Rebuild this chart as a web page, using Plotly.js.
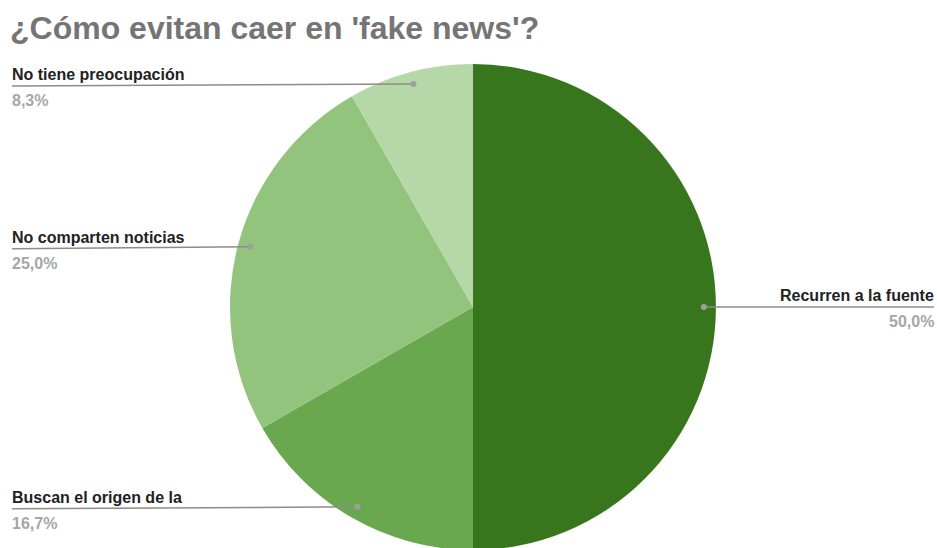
<!DOCTYPE html>
<html>
<head>
<meta charset="utf-8">
<script src="https://cdn.plot.ly/plotly-3.0.1.min.js"></script>
<style>html,body{margin:0;padding:0;overflow:hidden;background:#fff;}</style>
</head>
<body>
<div id="chart" style="width:937px;height:560px;"></div>
<script>
const categories = ["Recurren a la fuente", "Buscan el origen de la", "No comparten noticias", "No tiene preocupación"];
const values = [50.0, 16.7, 25.0, 8.3];
const percentLabels = ["50,0%", "16,7%", "25,0%", "8,3%"];
const colors = ["#38761d", "#6aa84f", "#93c47d", "#b6d7a8"];

const W = 937, H = 560;
const cx = 473, cy = 307, R = 243;
const px = x => x / W;
const py = y => 1 - y / H;
const FONT = "Arial, 'Liberation Sans', sans-serif";

const total = values.reduce((a, b) => a + b, 0);
const shapes = [];
const annotations = [];
let cum = 0;
values.forEach((v, i) => {
  const mid = (cum + v / 2) / total * 2 * Math.PI;
  cum += v;
  const dx = Math.sin(mid) * R * 0.95;
  const dy = -Math.cos(mid) * R * 0.95;
  const dotX = cx + dx, dotY = cy + dy;
  const right = dx > 0;
  const endX = right ? 934 : 12;
  const textX = right ? 936 : 10;
  const lineY = dotY + (right ? 0 : 2);
  shapes.push({type: "line", xref: "paper", yref: "paper",
    x0: px(dotX), y0: py(dotY), x1: px(endX), y1: py(lineY),
    line: {color: "#8c8c8c", width: 1.5}});
  shapes.push({type: "circle", xref: "paper", yref: "paper",
    x0: px(dotX - 3), x1: px(dotX + 3), y0: py(dotY - 3), y1: py(dotY + 3),
    fillcolor: "#9e9e9e", line: {width: 0}});
  annotations.push({text: "<b>" + categories[i] + "</b>", xref: "paper", yref: "paper",
    x: px(textX), y: py(lineY - 1), xanchor: right ? "right" : "left", yanchor: "bottom",
    showarrow: false, font: {family: FONT, size: 16, color: "#222222"}});
  annotations.push({text: "<b>" + percentLabels[i] + "</b>", xref: "paper", yref: "paper",
    x: px(textX), y: py(lineY + 4), xanchor: right ? "right" : "left", yanchor: "top",
    showarrow: false, font: {family: FONT, size: 16, color: "#a6a6a6"}});
});

const trace = {
  type: "pie",
  labels: categories,
  values: values,
  sort: false,
  direction: "clockwise",
  rotation: 0,
  textinfo: "none",
  hoverinfo: "label+percent",
  marker: {colors: colors, line: {width: 0}},
  domain: {x: [px(cx - R), px(cx + R)], y: [py(cy + R), py(cy - R)]},
  showlegend: false
};

const layout = {
  width: W, height: H,
  margin: {l: 0, r: 0, t: 0, b: 0},
  paper_bgcolor: "#ffffff",
  title: {text: "<b>¿Cómo evitan caer en 'fake news'?</b>", xref: "paper", yref: "paper",
    x: px(10), xanchor: "left", y: py(28), yanchor: "middle",
    font: {family: FONT, size: 32, color: "#757575"}},
  shapes: shapes,
  annotations: annotations,
  showlegend: false
};

Plotly.newPlot("chart", [trace], layout, {displayModeBar: false, staticPlot: true});
</script>
</body>
</html>
